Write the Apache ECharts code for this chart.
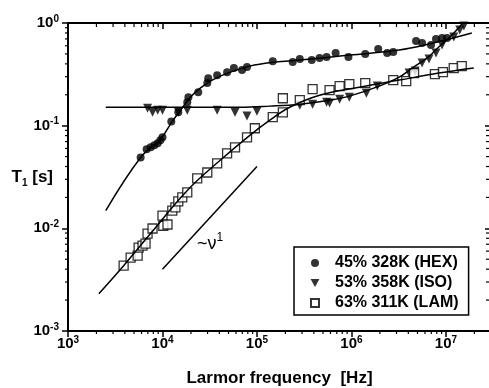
<!DOCTYPE html>
<html>
<head>
<meta charset="utf-8">
<script src="https://cdn.jsdelivr.net/npm/echarts@6/dist/echarts.min.js"></script>
<style>
  html, body { margin: 0; padding: 0; background: #fff; }
  #chart { width: 489px; height: 388px; }
</style>
</head>
<body>
<div id="chart"></div>
<script>
// 数据
var hexF = [5.87e3, 6.8e3, 7.5e3, 8.2e3, 8.9e3, 9.5e3, 1.0e4, 1.24e4, 1.47e4, 1.83e4, 1.88e4, 2.39e4, 2.98e4, 3.05e4, 3.79e4, 4.83e4, 5.7e4, 6.95e4, 7.85e4, 1.47e5, 2.39e5, 2.84e5, 3.8e5, 4.6e5, 5.46e5, 6.8e5, 9.3e5, 1.4e6, 1.92e6, 2.39e6, 2.77e6, 4.83e6, 5.59e6, 6.95e6, 7.85e6, 9.1e6, 1.03e7];
var hexT = [0.049, 0.059, 0.0615, 0.0644, 0.0673, 0.072, 0.077, 0.110, 0.135, 0.169, 0.189, 0.212, 0.26, 0.29, 0.31, 0.332, 0.364, 0.348, 0.372, 0.425, 0.416, 0.445, 0.435, 0.455, 0.466, 0.509, 0.466, 0.498, 0.557, 0.509, 0.521, 0.667, 0.638, 0.61, 0.698, 0.714, 0.714];

var isoF = [6.95e3, 7.85e3, 8.9e3, 1.0e4, 1.47e4, 1.83e4, 3.79e4, 5.86e4, 7.85e4, 1.0e5, 2.84e5, 3.88e5, 5.46e5, 5.87e5, 7.5e5, 9.5e5, 1.44e6, 1.88e6, 4.08e6, 4.72e6, 5.59e6, 6.62e6, 7.85e6, 9.1e6, 1.21e7, 1.40e7, 1.55e7];
var isoT = [0.148, 0.135, 0.141, 0.141, 0.135, 0.141, 0.141, 0.135, 0.124, 0.138, 0.158, 0.162, 0.169, 0.166, 0.181, 0.189, 0.207, 0.243, 0.325, 0.34, 0.407, 0.445, 0.509, 0.61, 0.73, 0.855, 0.935];

var lamF = [3.88e3, 4.6e3, 5.46e3, 5.59e3, 6.15e3, 6.62e3, 6.95e3, 7.85e3, 1.02e4, 1.0e4, 1.13e4, 1.27e4, 1.37e4, 1.47e4, 1.62e4, 1.83e4, 2.33e4, 2.98e4, 3.79e4, 4.83e4, 5.86e4, 7.85e4, 9.5e4, 1.47e5, 1.88e5, 1.88e5, 2.84e5, 3.88e5, 5.87e5, 7.5e5, 9.5e5, 1.4e6, 2.77e6, 3.8e6, 4.6e6, 7.65e6, 9.3e6, 1.21e7, 1.47e7];
var lamT = [0.00433, 0.00518, 0.00542, 0.0065, 0.0068, 0.0071, 0.0089, 0.00996, 0.0106, 0.0133, 0.0109, 0.0149, 0.016, 0.0183, 0.02, 0.0224, 0.0306, 0.035, 0.043, 0.0537, 0.0615, 0.077, 0.0944, 0.121, 0.135, 0.185, 0.177, 0.227, 0.222, 0.243, 0.254, 0.26, 0.278, 0.271, 0.325, 0.318, 0.332, 0.364, 0.38];

// 拟合曲线
var hexFitF = [2.51e3, 5.87e3, 9.5e3, 1.27e4, 1.55e4, 1.97e4, 2.51e4, 3.36e4, 4.6e4, 8.4e4, 1.55e5, 2.84e5, 9.5e5, 3.2e6, 6.6e6, 1.88e7];
var hexFitT = [0.0149, 0.049, 0.0737, 0.110, 0.141, 0.189, 0.232, 0.278, 0.318, 0.380, 0.416, 0.435, 0.487, 0.545, 0.624, 0.80];

var isoFitF = [2.51e3, 6.62e4, 1.37e5, 2.84e5, 5.87e5, 9.5e5, 1.97e6, 3.2e6, 4.38e6, 6.3e6, 8.4e6, 1.13e7, 1.51e7];
var isoFitT = [0.151, 0.151, 0.155, 0.162, 0.177, 0.194, 0.243, 0.297, 0.364, 0.455, 0.583, 0.746, 1.0];

var lamFitF = [2.12e3, 3.88e3, 7.48e3, 1.83e4, 4.08e4, 8.4e4, 1.37e5, 2.22e5, 4.6e5, 1.21e6, 3.2e6, 8.4e6, 1.97e7];
var lamFitT = [0.00231, 0.00433, 0.0089, 0.0234, 0.046, 0.0805, 0.113, 0.151, 0.198, 0.237, 0.278, 0.325, 0.364];

var nuF = [1e4, 1e5];
var nuT = [0.004, 0.04];

var names = ['45% 328K (HEX)', '53% 358K (ISO)', '63% 311K (LAM)'];

var X_MIN = 1e3, X_MAX = 3e7, Y_MIN = 1e-3, Y_MAX = 1;
var FONT = 'Liberation Sans, Arial, Helvetica, sans-serif';

function zip(a, b) {
  return a.map(function (v, i) { return [v, b[i]]; });
}

// 次刻度 2..9 × 10^n
var xMinor = [], yMinor = [];
for (var n = 3; n <= 7; n++) {
  for (var k = 2; k <= 9; k++) {
    if (k * Math.pow(10, n) < X_MAX) xMinor.push(k * Math.pow(10, n));
  }
}
for (var n = -3; n <= -1; n++) {
  for (var k = 2; k <= 9; k++) yMinor.push(+(k * Math.pow(10, n)).toPrecision(3));
}

function minorTicks(vals, isX) {
  return {
    type: 'custom',
    silent: true,
    clip: false,
    z: 5,
    data: vals.map(function (v) { return isX ? [v, Y_MIN] : [X_MIN, v]; }),
    renderItem: function (params, api) {
      var p = api.coord([api.value(0), api.value(1)]);
      var cs = params.coordSys;
      var segs;
      if (isX) {
        segs = [[p[0], cs.y + cs.height, p[0], cs.y + cs.height + 3],
                [p[0], cs.y, p[0], cs.y + 4]];
      } else {
        segs = [[cs.x - 3, p[1], cs.x, p[1]],
                [cs.x + cs.width - 5, p[1], cs.x + cs.width, p[1]]];
      }
      return {
        type: 'group',
        children: segs.map(function (s) {
          return {
            type: 'line',
            shape: { x1: s[0], y1: s[1], x2: s[2], y2: s[3] },
            style: { stroke: '#000', lineWidth: 1.2 }
          };
        })
      };
    }
  };
}

function powLabel(v) {
  var e = Math.log10(v);
  if (Math.abs(e - Math.round(e)) > 1e-6) return '';
  return '{b|10}{s|' + Math.round(e) + '}';
}

var labelRich = {
  b: { fontSize: 15, fontWeight: 'bold', fontFamily: FONT, color: '#000', lineHeight: 18 },
  s: { fontSize: 10, fontWeight: 'bold', fontFamily: FONT, color: '#000', lineHeight: 10, verticalAlign: 'top' }
};

function axisBase(extra) {
  var base = {
    type: 'log',
    logBase: 10,
    splitLine: { show: false },
    nameMoveOverlap: false,
    axisLine: { show: true, onZero: false, lineStyle: { color: '#000', width: 2 } },
    axisTick: { show: true, length: 6, lineStyle: { color: '#000', width: 1.5 } }
  };
  for (var key in extra) base[key] = extra[key];
  return base;
}

var chart = echarts.init(document.getElementById('chart'));

chart.setOption({
  animation: false,
  backgroundColor: '#fff',
  grid: { left: 68, top: 23, right: -2, bottom: 57, containLabel: false, outerBoundsMode: 'none' },
  xAxis: [
    axisBase({
      min: X_MIN, max: X_MAX, position: 'bottom',
      name: 'Larmor frequency  [Hz]',
      nameLocation: 'middle',
      nameGap: 39,
      nameTextStyle: { fontSize: 17, fontWeight: 'bold', fontFamily: FONT, color: '#000' },
      axisLabel: { margin: 4, formatter: powLabel, rich: labelRich, showMaxLabel: false }
    }),
    axisBase({
      min: X_MIN, max: X_MAX, position: 'top',
      axisLabel: { show: false },
      axisTick: { show: true, inside: true, length: 6, lineStyle: { color: '#000', width: 1.5 } }
    })
  ],
  yAxis: [
    axisBase({
      min: Y_MIN, max: Y_MAX, position: 'left',
      name: '{t|T}{u|1}{t| [s]}',
      nameLocation: 'middle',
      nameRotate: 0,
      nameGap: 15,
      nameTextStyle: {
        rich: {
          t: { fontSize: 17, fontWeight: 'bold', fontFamily: FONT, color: '#000', lineHeight: 22 },
          u: { fontSize: 10, fontWeight: 'bold', fontFamily: FONT, color: '#000', lineHeight: 10, verticalAlign: 'bottom' }
        }
      },
      axisLabel: { margin: 9, formatter: powLabel, rich: labelRich }
    }),
    axisBase({
      min: Y_MIN, max: Y_MAX, position: 'right',
      axisLabel: { show: false },
      axisTick: { show: true, inside: true, length: 6, lineStyle: { color: '#000', width: 1.5 } }
    })
  ],
  legend: {
    data: [
      { name: names[0], icon: 'circle' },
      { name: names[1], icon: 'path://M0,0L10,0L5,9Z' },
      { name: names[2], icon: 'path://M0,0L10,0L10,10L0,10Z' }
    ],
    orient: 'vertical',
    left: 294,
    top: 247,
    padding: [8, 10, 4, 16],
    itemWidth: 30,
    itemHeight: 8,
    itemGap: 4,
    symbolRotate: 0,
    symbolKeepAspect: true,
    borderColor: '#000',
    borderWidth: 1.5,
    borderRadius: 0,
    backgroundColor: '#fff',
    z: 10,
    textStyle: { fontSize: 16, fontWeight: 'bold', fontFamily: FONT, color: '#000', lineHeight: 16 }
  },
  graphic: [{
    type: 'text',
    left: 197,
    top: 232,
    style: {
      text: '{a|~ν}{b|1}',
      rich: {
        a: { fontSize: 18, fontFamily: FONT, fill: '#000', lineHeight: 24 },
        b: { fontSize: 12, fontFamily: FONT, fill: '#000', lineHeight: 12, verticalAlign: 'top' }
      }
    }
  }],
  series: [
    {
      name: names[0], type: 'scatter', symbol: 'circle', symbolSize: 8,
      itemStyle: { color: '#000' },
      data: zip(hexF, hexT)
    },
    {
      name: names[1], type: 'scatter', symbol: 'triangle', symbolRotate: 180, symbolSize: 9,
      itemStyle: { color: '#000' },
      data: zip(isoF, isoT)
    },
    {
      name: names[2], type: 'scatter', symbol: 'rect', symbolSize: 9,
      itemStyle: { color: '#fff', borderColor: '#000', borderWidth: 1.3 },
      data: zip(lamF, lamT)
    },
    {
      type: 'line', silent: true, smooth: 0.4, symbol: 'none',
      lineStyle: { color: '#000', width: 1.5 },
      data: zip(hexFitF, hexFitT)
    },
    {
      type: 'line', silent: true, smooth: 0.4, symbol: 'none',
      lineStyle: { color: '#000', width: 1.5 },
      data: zip(isoFitF, isoFitT)
    },
    {
      type: 'line', silent: true, smooth: 0.4, symbol: 'none',
      lineStyle: { color: '#000', width: 1.5 },
      data: zip(lamFitF, lamFitT)
    },
    {
      type: 'line', silent: true, symbol: 'none',
      lineStyle: { color: '#000', width: 1.5 },
      data: zip(nuF, nuT)
    },
    minorTicks(xMinor, true),
    minorTicks(yMinor, false)
  ]
});
</script>
</body>
</html>
